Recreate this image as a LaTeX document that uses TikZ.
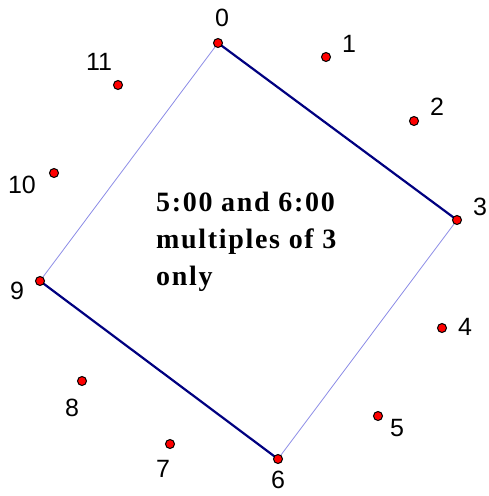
\documentclass[tikz,border=0pt]{standalone}
\usepackage{fontspec}
\setmainfont{Liberation Sans}
\newfontfamily\timesbold[LetterSpace=6]{Liberation Serif}
\definecolor{navy}{RGB}{0,0,128}
\definecolor{lightline}{RGB}{140,140,230}
\begin{document}
\begin{tikzpicture}[x=1pt,y=-1pt,
  dot/.style={circle,fill=red,draw=black,line width=1pt,inner sep=0pt,minimum size=9pt},
  lab/.style={font=\fontsize{25}{27}\selectfont,inner sep=0pt},
  thick line/.style={draw=navy,line width=2.2pt},
  thin line/.style={draw=lightline,line width=0.8pt}]
\useasboundingbox (0,0) rectangle (489,496);
\coordinate (p0) at (218,43);
\coordinate (p1) at (326,57);
\coordinate (p2) at (414,121);
\coordinate (p3) at (457,220);
\coordinate (p4) at (442,328);
\coordinate (p5) at (378,416);
\coordinate (p6) at (278,459);
\coordinate (p7) at (170,444);
\coordinate (p8) at (82,381);
\coordinate (p9) at (40,281);
\coordinate (p10) at (54,173);
\coordinate (p11) at (118,85);
\draw[thick line] (p0) -- (p3);
\draw[thin line] (p3) -- (p6);
\draw[thick line] (p6) -- (p9);
\draw[thin line] (p9) -- (p0);
\foreach \i in {0,...,11} \node[dot] (d\i) at (p\i) {};
\node[lab] (l0) at (222,18) {0};
\node[lab] (l1) at (349,44) {1};
\node[lab] (l2) at (437,107) {2};
\node[lab] (l3) at (480,207) {3};
\node[lab] (l4) at (465,327) {4};
\node[lab] (l5) at (397,428) {5};
\node[lab] (l6) at (278,480) {6};
\node[lab] (l7) at (163,469) {7};
\node[lab] (l8) at (72,408) {8};
\node[lab] (l9) at (17,291) {9};
\node[lab] (l10) at (22,185) {10};
\node[lab] (l11) at (99,62) {11};
\node[anchor=north west,inner sep=0pt,align=left,font=\timesbold\bfseries\fontsize{28}{37}\selectfont] (txt) at (156,192) {5:00 and 6:00\\multiples of 3\\only};
\end{tikzpicture}
\end{document}
